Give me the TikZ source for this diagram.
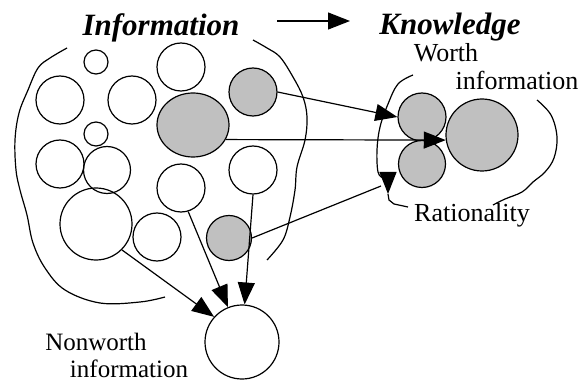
\documentclass[tikz,border=0pt]{standalone}
\usepackage{fontspec}
\setmainfont{Liberation Serif}
\usetikzlibrary{arrows.meta,shapes.geometric}
\definecolor{gfill}{RGB}{192,192,192}
\begin{document}
\begin{tikzpicture}[x=1pt,y=-1pt,
  ln/.style={line width=1.2pt, black},
  arr/.style={ln, -{Triangle[length=22pt,width=17pt]}},
  circ/.style={circle, draw, line width=1.2pt, inner sep=0pt, minimum size=#1},
  gcirc/.style={circ=#1, fill=gfill},
  lbl/.style={anchor=base, inner sep=0pt, font=\fontsize{26}{26}\selectfont},
  sml/.style={anchor=base, inner sep=0pt, font=\fontsize{25}{25}\selectfont},
  ttl/.style={anchor=base, inner sep=0pt, font=\fontsize{31}{31}\selectfont\bfseries\itshape}]
\useasboundingbox (0,0) rectangle (586,382);
% information circles
\node[circ=24pt] (s1) at (96,62) {};
\node[circ=48pt] (c1) at (60,100) {};
\node[circ=48pt] (c2) at (132,100) {};
\node[circ=48pt] (c3) at (181,67) {};
\node[ellipse, draw, fill=gfill, line width=1.2pt, inner sep=0pt, minimum width=72pt, minimum height=64pt] (bg) at (193,125) {};
\node[gcirc=48pt] (g2) at (253,92) {};
\node[circ=24pt] (s2) at (96,134) {};
\node[circ=48pt] (c4) at (60,164) {};
\node[circ=47pt] (c5) at (107,170) {};
\node[circ=48pt] (c6) at (253,170) {};
\node[circ=48pt] (c7) at (181,188) {};
\node[circ=72pt] (c8) at (96,224) {};
\node[circ=48pt] (c9) at (157,237) {};
\node[gcirc=45pt] (g3) at (229,238) {};
% knowledge circles
\node[gcirc=48pt] (k1) at (422,117) {};
\node[gcirc=47pt] (k2) at (422,164) {};
\node[gcirc=72pt] (kb) at (482,135) {};
% nonworth circle
\node[circ=74pt] (nw) at (242,342) {};
% labels
\node[ttl] (info) at (161,36) {Information};
\node[ttl] (know) at (450,35) {Knowledge};
\node[lbl] (worth) at (446,62) {Worth};
\node[lbl] (winfo) at (517,90) {information};
\node[lbl] (rat) at (472,222) {Rationality};
\node[sml] (nwl) at (96,350) {Nonworth};
\node[sml] (nwinfo) at (129,377) {information};
% top arrow
\coordinate (ta) at (277,21);
\coordinate (tb) at (350,21);
\draw[arr] (ta) -- (tb);
% blob boundary
\draw[ln] plot[smooth, tension=0.6] coordinates {(67,48) (50,58) (38,68) (28,90) (19,113) (15,140) (16,170) (20,190) (27,215) (33,243) (45,268) (65,290) (100,303) (140,302) (165,297)};
\draw[ln] plot[smooth, tension=0.6] coordinates {(253,40) (267,48) (280,57) (293,77) (303,97) (307,117) (305,140) (297,167) (295,190) (290,217) (283,240) (267,260)};
% brackets
\draw[ln] plot[smooth, tension=0.6] coordinates {(413,75) (398,84) (388,104) (380,127) (377,150) (378,172) (383,178)};
\coordinate (ra1) at (388,176);
\coordinate (ra2) at (388,194);
\draw[arr] (ra1) -- (ra2);
\draw[ln] (ra2) -- (389,200) -- (394,204) -- (408,207);
\draw[ln] plot[smooth, tension=0.6] coordinates {(537,100) (551,115) (557,137) (554,158) (545,172) (533,182) (522,192) (505,199) (493,205)};
% connectors
\draw[arr] (g2.east) -- (k1.west);
\draw[arr] (bg.-24) -- (kb.188);
\coordinate (rc) at (381,186);
\draw[ln] (g3.east) -- (rc);
\draw[arr] (c8.-45) -- (nw.138);
\draw[arr] (c7.-73) -- (nw.112);
\draw[arr] (c6.south) -- (nw.86);
\end{tikzpicture}
\end{document}
